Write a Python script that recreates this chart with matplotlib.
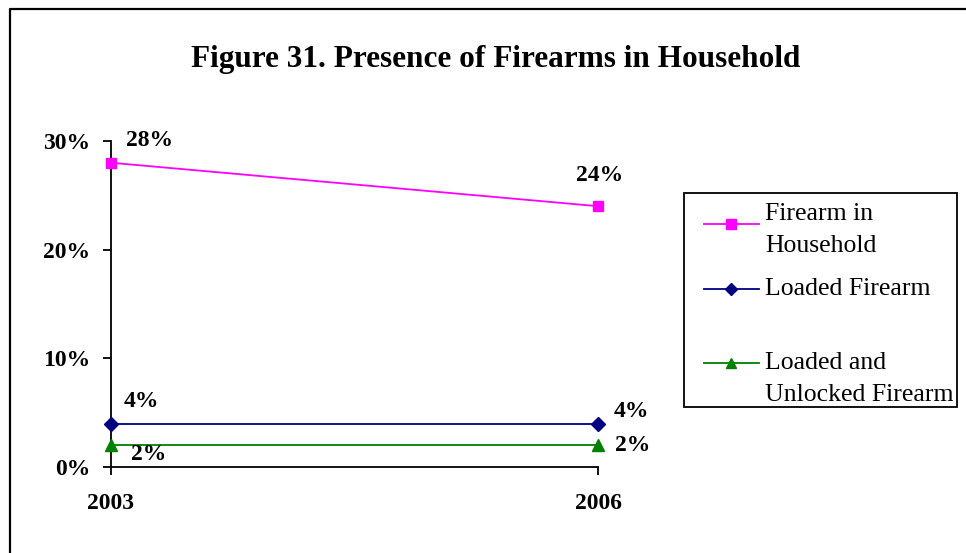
import matplotlib
matplotlib.use("Agg")
import matplotlib.pyplot as plt
from matplotlib.lines import Line2D
from matplotlib.patches import Rectangle

plt.rcParams['font.family'] = ['Liberation Serif', 'DejaVu Serif']

years = ['2003', '2006']
series_names = ['Firearm in\nHousehold', 'Loaded Firearm', 'Loaded and\nUnlocked Firearm']
firearm = [0.28, 0.24]
loaded = [0.04, 0.04]
loaded_unlocked = [0.02, 0.02]
yticks = [0.0, 0.10, 0.20, 0.30]
ytick_labels = ['0%', '10%', '20%', '30%']

colors = ['#FF00FF', '#000080', '#008000']
markers = ['s', 'D', '^']
msizes = [7.5, 7, 8.5]

W, H = 966, 553
fig = plt.figure(figsize=(W / 100, H / 100), dpi=100)


def px(x, y):
    # pixel position (from top-left) -> figure fraction
    return x / W, 1 - y / H


# plot area in pixels
x0, x1 = 111, 598
y_top, y_bot = 141, 467
ax = fig.add_axes([x0 / W, 1 - y_bot / H, (x1 - x0) / W, (y_bot - y_top) / H])

xs = [0, 1]
all_series = [firearm, loaded, loaded_unlocked]
for vals, c, m, ms in zip(all_series, colors, markers, msizes):
    ax.plot(xs, vals, color=c, marker=m, markersize=ms, linewidth=1.3,
            markeredgecolor=c, clip_on=False, zorder=3)

ax.set_xlim(0, 1)
ax.set_ylim(0, 0.30)
ax.set_xticks(xs)
ax.set_xticklabels(years, fontsize=17, fontweight='bold')
ax.set_yticks(yticks)
ax.set_yticklabels(ytick_labels, fontsize=17, fontweight='bold')
ax.tick_params(axis='both', direction='out', length=6, width=1.3, colors='black')
ax.tick_params(axis='y', pad=9)
ax.tick_params(axis='x', pad=13)
for s in ['top', 'right']:
    ax.spines[s].set_visible(False)
for s in ['left', 'bottom']:
    ax.spines[s].set_linewidth(1.3)

# data labels (offsets in points)
label_offsets = [
    [(28, 16), (1, 22)],
    [(22, 16), (24, 9)],
    [(27, -7), (25, 0)],
]
for vals, offs in zip(all_series, label_offsets):
    for x, v, (dx, dy) in zip(xs, vals, offs):
        ax.annotate(f'{v * 100:.0f}%', xy=(x, v), xytext=(dx, dy),
                    textcoords='offset points', ha='center', va='center',
                    fontsize=17, fontweight='bold', annotation_clip=False)

# title
tx, ty = px(496, 59)
fig.text(tx, ty, 'Figure 31. Presence of Firearms in Household', ha='center',
         va='center', fontsize=22.5, fontweight='bold')

# legend box drawn by hand
lx0, ly0 = px(684, 407)
lx1, ly1 = px(957, 193)
fig.patches.append(Rectangle((lx0, ly0), lx1 - lx0, ly1 - ly0, transform=fig.transFigure,
                             fill=False, edgecolor='black', linewidth=1.3))
handle_y = [224, 289, 363]
text_y = [230, 289, 379]
for name, c, m, ms, hy, ty_ in zip(series_names, colors, markers, msizes, handle_y, text_y):
    a, b = px(704, hy)
    cc, _ = px(759, hy)
    fig.lines.append(Line2D([a, cc], [b, b], transform=fig.transFigure, color=c, linewidth=1.3))
    mx, _ = px(731, hy)
    fig.lines.append(Line2D([mx], [b], transform=fig.transFigure, color=c, marker=m,
                            markersize=ms - 1, markeredgecolor=c))
    tx_, tyy = px(765, ty_)
    fig.text(tx_, tyy, name, ha='left', va='center', fontsize=18.5, linespacing=1.6)

# outer frame (left and top edges visible)
fx, fy = px(9.5, 8.5)
fig.lines.append(Line2D([fx, fx, 1.0], [0.0, fy, fy], transform=fig.transFigure,
                        color='black', linewidth=1.6))

fig.savefig('out.png', dpi=100)
